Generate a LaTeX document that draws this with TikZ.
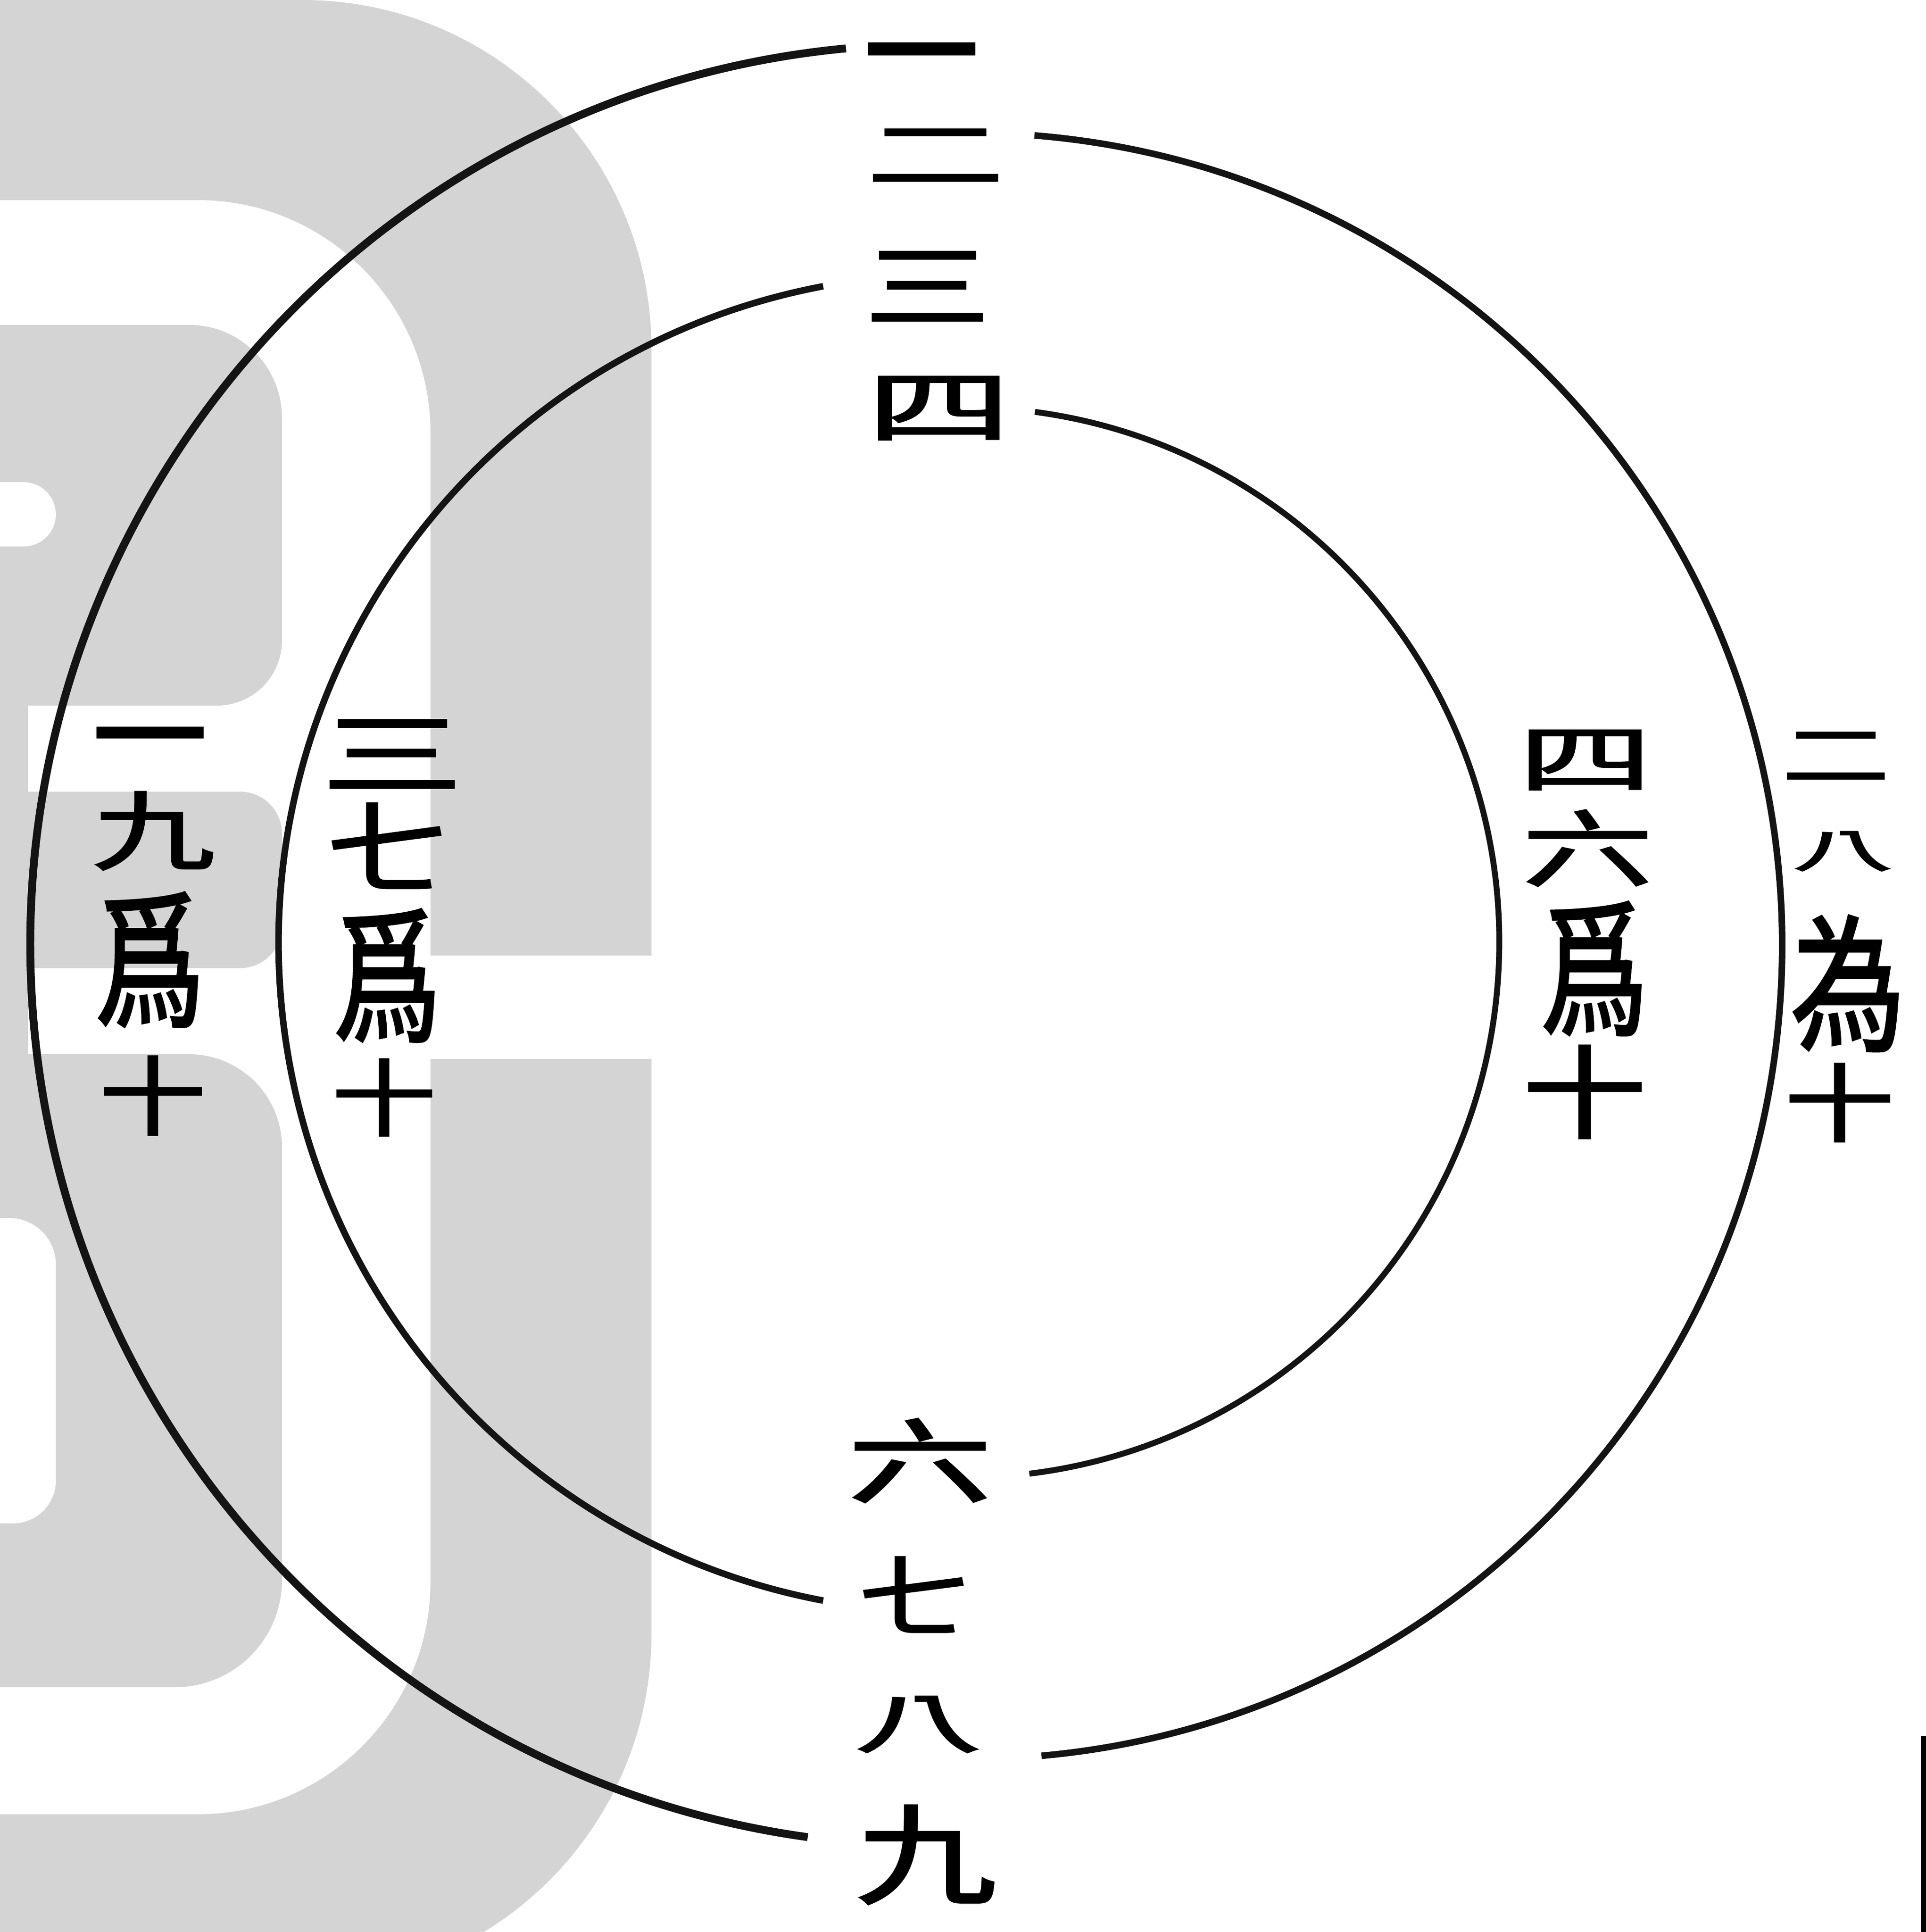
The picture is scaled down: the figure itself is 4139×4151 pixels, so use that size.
\documentclass[tikz,border=0pt]{standalone}
\usepackage{graphicx}
\usepackage{fontspec}
\newfontfamily\cjk{Noto Sans CJK TC}[FakeBold=2]
\definecolor{wm}{RGB}{212,212,212}
\newcommand\glyphsc[3]{\scalebox{#1}[#2]{#3}}
\begin{document}
\begin{tikzpicture}[x=0.01cm,y=-0.01cm,
  arcA/.style={line width=4.8pt, black!92},
  arcB/.style={line width=4.0pt, black!92},
  arcC/.style={line width=3.6pt, black!92},
  midch/.style={font=\cjk\fontsize{78}{80}\selectfont, inner sep=0pt},
  sidech/.style={font=\cjk\fontsize{70}{72}\selectfont, inner sep=0pt}]
\useasboundingbox (0,0) rectangle (4139,4151);
\fill[white] (0,0) rectangle (4139,4151);
% watermark in the background
\begin{scope}
\clip (0,0) rectangle (4139,4151);
\fill[wm] (0,0) -- (650,0) arc[start angle=-90,end angle=0,radius=750]
  -- (1400,3510) arc[start angle=0,end angle=90,radius=750] -- (0,4260) -- cycle;
\fill[white] (0,430) -- (425,430) arc[start angle=-90,end angle=0,radius=500]
  -- (925,3398) arc[start angle=0,end angle=90,radius=500] -- (0,3898) -- cycle;
\fill[wm] (0,698) -- (406,698) arc[start angle=-90,end angle=0,radius=200]
  -- (606,1376) arc[start angle=0,end angle=90,radius=140] -- (0,1516) -- cycle;
\fill[wm] (0,1701) -- (516,1701) arc[start angle=-90,end angle=0,radius=90]
  -- (606,1990) arc[start angle=0,end angle=90,radius=90] -- (0,2080) -- cycle;
\fill[wm] (0,2265) -- (406,2265) arc[start angle=-90,end angle=0,radius=200]
  -- (606,3395) arc[start angle=0,end angle=90,radius=230] -- (0,3625) -- cycle;
\fill[wm] (0,698) rectangle (60,3625);
\fill[white] (0,1036) -- (51,1036) arc[start angle=-90,end angle=90,radius=69] -- (0,1174) -- cycle;
\fill[white] (0,2617) -- (20,2617) arc[start angle=-90,end angle=0,radius=100]
  -- (120,3181) arc[start angle=0,end angle=90,radius=92] -- (0,3273) -- cycle;
\fill[white] (925,2053) rectangle (1410,2275);
\fill[black] (4128,3730) rectangle (4139,4151);
\end{scope}
% arc end points
\coordinate (a1s) at (1818,104);
\coordinate (a2s) at (2223,291);
\coordinate (a3s) at (1769,615);
\coordinate (a4s) at (2224,885);
% arcs
\draw[arcA] (a1s) arc[start angle=264.6,end angle=97.85,radius=1935];
\draw[arcB] (a2s) arc[start angle=-85.4,end angle=84.9,radius=1747];
\draw[arcB] (a3s) arc[start angle=259.3,end angle=100.7,radius=1437];
\draw[arcC] (a4s) arc[start angle=-82.4,end angle=83.0,radius=1150];
% middle column
\node[midch] (n1) at (1980,153) {\glyphsc{0.9}{1}{一}};
\node[midch] (n2) at (2010,335) {\glyphsc{1.08}{0.6}{二}};
\node[midch] (n3) at (1993,615) {\glyphsc{0.98}{0.72}{三}};
\node[midch] (n4) at (2018,877) {\glyphsc{1.13}{0.62}{四}};
\node[midch] (n6) at (1977,3138) {\glyphsc{1.13}{0.72}{六}};
\node[midch] (n7) at (1965,3426) {\glyphsc{0.87}{0.7}{七}};
\node[midch] (n8) at (1973,3705) {\glyphsc{1.0}{0.51}{八}};
\node[midch] (n9) at (1990,3985) {\glyphsc{1.1}{0.85}{九}};
% left outer column
\node[sidech] (la1) at (322,1617) {\glyphsc{1.0}{1}{一}};
\node[sidech] (la2) at (330,1785) {\glyphsc{1.07}{0.75}{九}};
\node[sidech] (la3) at (322,2062) {\glyphsc{0.96}{1.3}{爲}};
\node[sidech] (la4) at (328,2354) {\glyphsc{0.93}{0.75}{十}};
% left inner column
\node[sidech] (lb1) at (843,1620) {\glyphsc{1.23}{0.79}{三}};
\node[sidech] (lb2) at (833,1817) {\glyphsc{1.06}{0.88}{七}};
\node[sidech] (lb3) at (832,2096) {\glyphsc{0.94}{1.28}{爲}};
\node[sidech] (lb4) at (825,2358) {\glyphsc{0.91}{0.73}{十}};
% right inner column
\node[sidech] (rb1) at (3407,1633) {\glyphsc{1.17}{0.65}{四}};
\node[sidech] (rb2) at (3412,1822) {\glyphsc{1.14}{0.73}{六}};
\node[sidech] (rb3) at (3426,2081) {\glyphsc{0.94}{1.29}{爲}};
\node[sidech] (rb4) at (3405,2346) {\glyphsc{1.08}{0.88}{十}};
% right outer column
\node[sidech] (ra1) at (3945,1625) {\glyphsc{0.94}{0.6}{二}};
\node[sidech] (ra2) at (3960,1829) {\glyphsc{0.88}{0.4}{八}};
\node[sidech] (ra3) at (3971,2113) {\glyphsc{1.0}{1.28}{為}};
\node[sidech] (ra4) at (3953,2369) {\glyphsc{0.96}{0.74}{十}};
\end{tikzpicture}
\end{document}
